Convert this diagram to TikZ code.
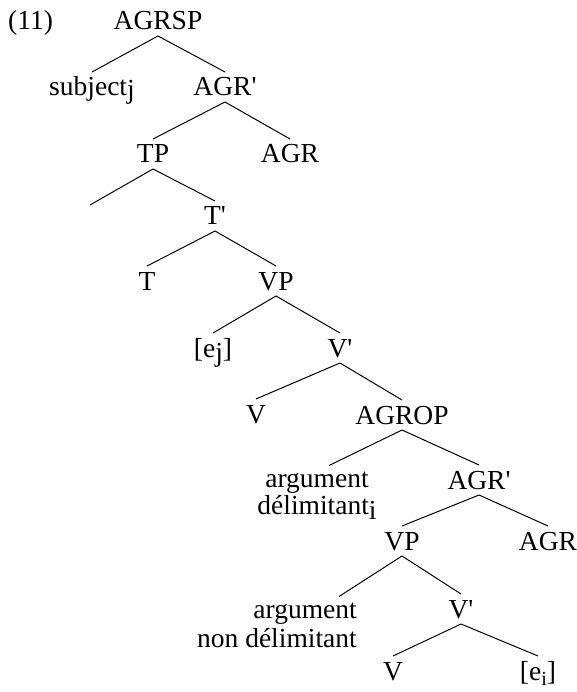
\documentclass[tikz,border=0pt]{standalone}
\usepackage{fontspec}
\setmainfont{Liberation Serif}[Ligatures=TeXOff]

\begin{document}
\begin{tikzpicture}[x=1pt, y=-1pt,
    font=\fontsize{27.5}{29}\selectfont,
    cat/.style={anchor=base, inner sep=0pt, text height=18pt, text depth=0pt, outer ysep=6pt},
    leaf/.style={anchor=base, inner sep=0pt, outer ysep=6pt},
    branch/.style={line width=1pt}]
    \useasboundingbox (0,0) rectangle (577,692);

    % Define the positions of the nodes of the tree
    \node[anchor=base west, inner sep=0pt] (ex) at (8,30) {(11)};
    \node[cat] (agrsp) at (158,30) {AGRSP};
    \node[cat] (subj) at (92,96) {subject\raisebox{-3pt}{j}};
    \node[cat] (agrbar) at (225,96) {AGR'};
    \node[cat] (tp) at (153,163) {TP};
    \node[cat] (agr) at (290,163) {AGR};
    \coordinate (tpspec) at (90,205);
    \node[cat] (tbar) at (215,225) {T'};
    \node[cat] (t) at (147,290) {T};
    \node[cat] (vp) at (276,290) {VP};
    \node[cat] (ej) at (213,357) {[e\raisebox{-4pt}{j}]};
    \node[cat] (vbar) at (340,357) {V'};
    \node[cat] (v) at (256,423) {V};
    \node[cat] (agrop) at (402,424) {AGROP};
    \node[leaf, align=center] (argdel) at (317,514) {argument\\[-2pt] délimitant\raisebox{-5pt}{i}};
    \node[cat] (agrbarb) at (479,489) {AGR'};
    \node[cat] (vpb) at (402,550) {VP};
    \node[cat] (agrb) at (548,550) {AGR};
    \node[leaf, align=right, anchor=base east] (argnon) at (357,647) {argument\\ non délimitant};
    \node[cat] (vbarb) at (461,618) {V'};
    \node[cat] (vb) at (393,680) {V};
    \node[cat] (ei) at (538,680) {[e\raisebox{-5pt}{\fontsize{20}{20}\selectfont i}]};

    % Draw the branches between the nodes
    \draw[branch] (agrsp.south) -- (subj.north);
    \draw[branch] (agrsp.south) -- (agrbar.north);
    \draw[branch] (agrbar.south) -- (tp.north);
    \draw[branch] (agrbar.south) -- (agr.north);
    \draw[branch] (tp.south) -- (tpspec);
    \draw[branch] (tp.south) -- (tbar.north);
    \draw[branch] (tbar.south) -- (t.north);
    \draw[branch] (tbar.south) -- (vp.north);
    \draw[branch] (vp.south) -- (ej.north);
    \draw[branch] (vp.south) -- (vbar.north);
    \draw[branch] (vbar.south) -- (v.north);
    \draw[branch] (vbar.south) -- (agrop.north);
    \draw[branch] (agrop.south) -- ([xshift=12pt]argdel.north);
    \draw[branch] (agrop.south) -- (agrbarb.north);
    \draw[branch] (agrbarb.south) -- (vpb.north);
    \draw[branch] (agrbarb.south) -- (agrb.north);
    \draw[branch] (vpb.south) -- ([xshift=-18pt]argnon.north east);
    \draw[branch] (vpb.south) -- (vbarb.north);
    \draw[branch] (vbarb.south) -- (vb.north);
    \draw[branch] (vbarb.south) -- (ei.north);
\end{tikzpicture}
\end{document}
